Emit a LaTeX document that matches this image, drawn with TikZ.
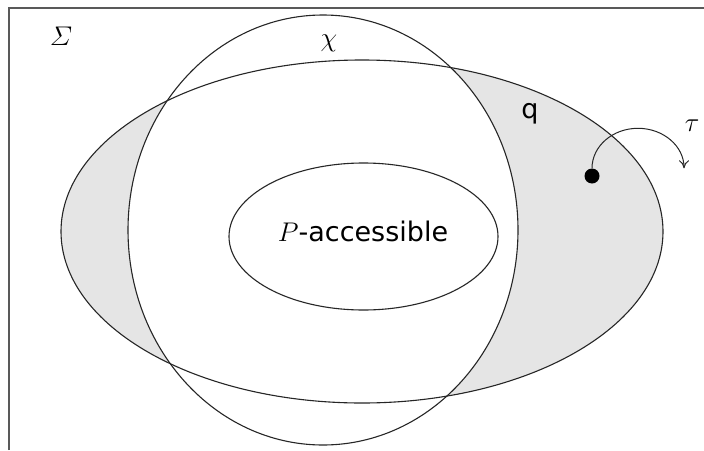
\RequirePackage{fix-cm}
\documentclass[tikz,border=0pt]{standalone}
\usepackage{fontspec}
\usetikzlibrary{arrows.meta}
\newfontfamily\dv{DejaVu Sans}
\begin{document}
\begin{tikzpicture}[x=1pt,y=-1pt,
  outline/.style={draw=black!85,line width=1.1pt},
  lbl/.style={inner sep=0pt,font=\fontsize{27}{32}\selectfont}]
\useasboundingbox (0,0) rectangle (704,450);
% frame
\draw[black!65,line width=1.2pt] (9,450) -- (9,8) -- (704,8);
% shading
\fill[black!10] (362,231.5) ellipse[x radius=301,y radius=171.5];
\fill[white] (323,230) ellipse[x radius=195,y radius=215];
% outlines
\draw[outline] (362,231.5) ellipse[x radius=301,y radius=171.5];
\draw[outline] (323,230) ellipse[x radius=195,y radius=215];
\draw[outline] (363.5,236.5) ellipse[x radius=134.5,y radius=73.5];
% labels
\node[lbl] (sigma) at (61,36) {$\mathchar"0106$};
\node[lbl] (chi) at (329,43) {$\chi$};
\node[lbl] (pacc) at (363,231) {\dv$P$-accessible};
\node[lbl,font=\dv\fontsize{27}{32}\selectfont] (q) at (530,114) {q};
\node[lbl] (tau) at (692,126) {$\tau$};
% point and move
\node[circle,fill=black,inner sep=0pt,minimum size=15pt] (dot) at (592,176) {};
\draw[black!85,line width=1pt,-{To[length=8pt,width=10pt]}] (dot.north) arc[start angle=180,end angle=360,x radius=46,y radius=40];
\end{tikzpicture}
\end{document}
